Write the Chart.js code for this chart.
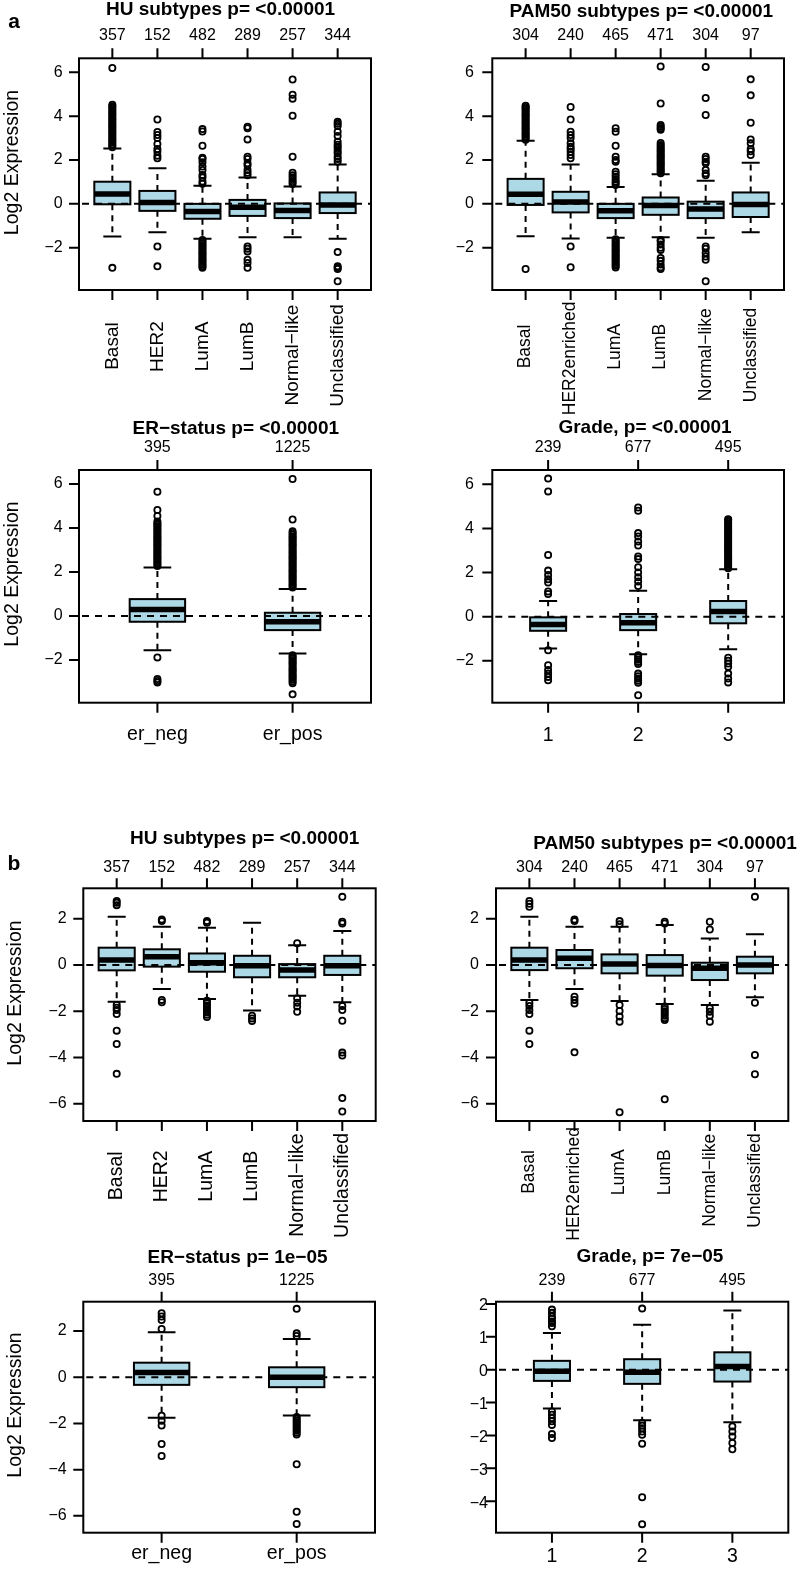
<!DOCTYPE html>
<html>
<head>
<meta charset="utf-8">
<script src="https://cdn.jsdelivr.net/npm/chart.js@4.4.1/dist/chart.umd.min.js"></script>
<style>
  body { margin: 0; background: #fff; width: 800px; height: 1569px; position: relative; overflow: hidden; }
  .panel { position: absolute; }
  canvas { display: block; }
</style>
</head>
<body>
<div class="panel" style="left:0;top:0"><canvas id="aHU" width="400" height="420"></canvas></div>
<div class="panel" style="left:400px;top:0"><canvas id="aPAM" width="400" height="420"></canvas></div>
<div class="panel" style="left:0;top:420px"><canvas id="aER" width="400" height="370"></canvas></div>
<div class="panel" style="left:400px;top:420px"><canvas id="aGrade" width="400" height="370"></canvas></div>
<div class="panel" style="left:0;top:790px"><canvas id="bHU" width="400" height="458"></canvas></div>
<div class="panel" style="left:400px;top:790px"><canvas id="bPAM" width="400" height="458"></canvas></div>
<div class="panel" style="left:0;top:1248px"><canvas id="bER" width="400" height="321"></canvas></div>
<div class="panel" style="left:400px;top:1248px"><canvas id="bGrade" width="400" height="321"></canvas></div>
<script>
// categories and group sizes
const huCats = ['Basal', 'HER2', 'LumA', 'LumB', 'Normal\u2212like', 'Unclassified'];
const huCounts = [357, 152, 482, 289, 257, 344];
const pamCats = ['Basal', 'HER2enriched', 'LumA', 'LumB', 'Normal\u2212like', 'Unclassified'];
const pamCounts = [304, 240, 465, 471, 304, 97];
const erCats = ['er_neg', 'er_pos'];
const erCounts = [395, 1225];
const gradeCats = ['1', '2', '3'];
const gradeCounts = [239, 677, 495];

// y tick values
const yTicksA = [-2, 0, 2, 4, 6];
const yTicksB = [-6, -4, -2, 0, 2];
const yTicksGradeB = [-4, -3, -2, -1, 0, 1, 2];

// box stats: [lower whisker, Q1, median, Q3, upper whisker]
const aHuStats = [
  [-1.49, -0.02, 0.45, 1.01, 2.53],
  [-1.29, -0.32, 0.06, 0.59, 1.62],
  [-1.59, -0.68, -0.35, 0.0, 0.83],
  [-1.52, -0.55, -0.15, 0.18, 1.2],
  [-1.52, -0.65, -0.3, 0.02, 0.79],
  [-1.59, -0.42, -0.05, 0.52, 1.8]
];
const aHuOut = [
  [2.58, 2.65, 2.72, 2.8, 2.88, 2.95, 3.02, 3.1, 3.18, 3.25, 3.32, 3.4, 3.48, 3.55, 3.62, 3.7, 3.78, 3.85, 3.92, 4.0, 4.08, 4.15, 4.22, 4.3, 4.38, 4.45, 4.52, 6.2, -2.92],
  [2.08, 2.2, 2.38, 2.5, 2.73, 3.0, 3.14, 3.28, 3.85, -1.94, -2.85],
  [0.92, 1.02, 1.2, 1.32, 1.55, 1.7, 1.9, 2.05, 2.1, 2.65, 3.3, 3.41, -1.65, -1.72, -1.8, -1.88, -1.95, -2.02, -2.1, -2.18, -2.25, -2.32, -2.4, -2.48, -2.55, -2.62, -2.7, -2.78, -2.85, -2.92],
  [1.3, 1.42, 1.55, 1.75, 1.85, 2.05, 2.15, 2.94, 3.45, 3.52, -1.94, -2.05, -2.17, -2.55, -2.7, -2.92],
  [0.9, 1.0, 1.09, 1.2, 1.3, 1.42, 2.15, 4.02, 4.8, 4.98, 5.67],
  [1.92, 2.05, 2.15, 2.3, 2.38, 2.5, 2.6, 2.7, 2.83, 3.1, 3.29, 3.55, 3.65, 3.74, -2.2, -2.85, -2.92, -2.97, -3.53]
];

const aPamStats = [
  [-1.48, -0.05, 0.44, 1.14, 2.88],
  [-1.58, -0.39, 0.08, 0.55, 1.8],
  [-1.55, -0.65, -0.32, 0.0, 0.77],
  [-1.52, -0.5, -0.08, 0.29, 1.35],
  [-1.55, -0.65, -0.24, 0.1, 1.05],
  [-1.3, -0.6, -0.03, 0.52, 1.88]
];
const aPamOut = [
  [2.92, 3.0, 3.08, 3.15, 3.22, 3.3, 3.38, 3.45, 3.52, 3.6, 3.68, 3.75, 3.82, 3.9, 3.98, 4.05, 4.12, 4.2, 4.28, 4.35, 4.42, 4.48, -2.97],
  [2.08, 2.23, 2.38, 2.5, 2.6, 2.76, 3.0, 3.14, 3.29, 3.85, 4.42, -1.94, -2.89],
  [0.86, 0.95, 1.02, 1.12, 1.24, 1.35, 1.47, 1.92, 2.0, 2.15, 2.65, 3.29, 3.45, -1.62, -1.7, -1.78, -1.85, -1.92, -2.0, -2.08, -2.15, -2.22, -2.3, -2.38, -2.45, -2.52, -2.6, -2.68, -2.75, -2.82, -2.9],
  [1.4, 1.48, 1.55, 1.62, 1.7, 1.78, 1.85, 1.92, 2.0, 2.08, 2.15, 2.22, 2.3, 2.38, 2.45, 2.52, 2.6, 2.68, 2.78, 3.38, 3.45, 3.52, 3.6, 4.58, 6.27, -1.65, -1.71, -1.85, -2.0, -2.1, -2.47, -2.6, -2.77, -2.9, -2.97],
  [1.3, 1.39, 1.55, 1.85, 1.92, 2.05, 2.15, 4.05, 4.83, 6.24, -1.94, -2.05, -2.24, -2.4, -2.55, -3.53],
  [2.23, 2.4, 2.5, 2.76, 2.94, 3.7, 4.95, 5.68]
];

const aErStats = [
  [-1.55, -0.26, 0.3, 0.77, 2.21],
  [-1.7, -0.64, -0.26, 0.15, 1.23]
];
const aErOut = [
  [2.28, 2.35, 2.42, 2.5, 2.58, 2.65, 2.72, 2.8, 2.88, 2.95, 3.02, 3.1, 3.18, 3.25, 3.32, 3.4, 3.48, 3.55, 3.62, 3.7, 3.78, 3.85, 3.92, 4.0, 4.08, 4.15, 4.22, 4.3, 4.55, 4.82, 5.65, -1.88, -2.86, -2.95, -3.02],
  [1.3, 1.38, 1.45, 1.52, 1.6, 1.68, 1.75, 1.82, 1.9, 1.98, 2.05, 2.12, 2.2, 2.28, 2.35, 2.42, 2.5, 2.58, 2.65, 2.72, 2.8, 2.88, 2.95, 3.02, 3.1, 3.18, 3.25, 3.32, 3.4, 3.48, 3.55, 3.62, 3.7, 3.78, 3.85, 4.39, 6.23,
   -1.78, -1.85, -1.92, -2.0, -2.08, -2.15, -2.22, -2.3, -2.38, -2.45, -2.52, -2.6, -2.68, -2.75, -2.82, -2.9, -2.98, -3.05, -3.56]
];

const aGradeStats = [
  [-1.44, -0.64, -0.35, -0.03, 0.71],
  [-1.7, -0.61, -0.27, 0.12, 1.17],
  [-1.48, -0.3, 0.23, 0.71, 2.15]
];
const aGradeOut = [
  [1.03, 1.14, 1.55, 1.7, 1.89, 2.09, 2.8, 5.68, 6.26, -1.52, -2.2, -2.42, -2.58, -2.73, -2.88],
  [1.39, 1.59, 1.79, 2.0, 2.24, 2.61, 2.73, 3.23, 3.41, 3.64, 3.79, 4.8, 4.95, -1.75, -1.85, -1.95, -2.05, -2.15, -2.58, -2.7, -2.8, -2.9, -3.0, -3.56],
  [2.2, 2.28, 2.35, 2.42, 2.5, 2.58, 2.65, 2.72, 2.8, 2.88, 2.95, 3.02, 3.1, 3.18, 3.25, 3.32, 3.4, 3.48, 3.55, 3.62, 3.7, 3.78, 3.85, 3.92, 4.0, 4.08, 4.15, 4.22, 4.3, 4.38, 4.42, -1.86, -2.0, -2.12, -2.27, -2.58, -2.8, -2.98]
];

const bHuStats = [
  [-1.59, -0.23, 0.22, 0.75, 2.09],
  [-1.04, -0.07, 0.36, 0.68, 1.66],
  [-1.47, -0.29, 0.1, 0.5, 1.61],
  [-1.97, -0.53, -0.03, 0.4, 1.83],
  [-1.33, -0.53, -0.22, 0.04, 0.86],
  [-1.61, -0.43, -0.03, 0.4, 1.47]
];
const bHuOut = [
  [2.59, 2.7, 2.77, -1.73, -1.85, -1.95, -2.12, -2.84, -3.42, -4.71],
  [1.9, 1.97, -1.51, -1.61],
  [1.83, 1.9, -1.55, -1.65, -1.75, -1.85, -1.95, -2.05, -2.15, -2.25],
  [-2.19, -2.31, -2.42],
  [0.94, -1.44, -1.63, -1.8, -2.02],
  [1.8, 1.87, 2.95, -1.77, -1.95, -2.41, -3.79, -3.92, -5.76, -6.34]
];

const bPamStats = [
  [-1.51, -0.22, 0.22, 0.75, 2.09],
  [-1.04, -0.14, 0.29, 0.65, 1.66],
  [-1.56, -0.36, 0.04, 0.46, 1.66],
  [-1.69, -0.46, -0.02, 0.43, 1.73],
  [-1.73, -0.65, -0.14, 0.1, 1.15],
  [-1.4, -0.36, 0.0, 0.36, 1.33]
];
const bPamOut = [
  [2.52, 2.65, 2.77, -1.63, -1.77, -1.95, -2.12, -2.84, -3.42],
  [1.9, 1.97, -1.37, -1.51, -1.66, -3.78],
  [1.76, 1.9, -1.73, -1.99, -2.23, -2.45, -6.37],
  [1.8, 1.87, -1.8, -1.9, -2.0, -2.1, -2.2, -2.3, -2.38, -5.81],
  [1.54, 1.87, -1.87, -2.02, -2.19, -2.45],
  [2.95, -1.63, -3.89, -4.73]
];

const bErStats = [
  [-1.75, -0.33, 0.2, 0.63, 1.95],
  [-1.66, -0.43, 0.0, 0.43, 1.65]
];
const bErOut = [
  [2.09, 2.48, 2.63, 2.77, -1.67, -1.88, -2.09, -2.89, -3.41],
  [1.79, 1.9, 2.96, -1.72, -1.8, -1.88, -1.95, -2.02, -2.1, -2.18, -2.25, -2.32, -2.4, -2.48, -3.77, -5.82, -6.35]
];

const bGradeStats = [
  [-1.18, -0.34, -0.05, 0.27, 1.12],
  [-1.54, -0.43, -0.08, 0.32, 1.37],
  [-1.6, -0.36, 0.1, 0.53, 1.8]
];
const bGradeOut = [
  [1.32, 1.42, 1.47, 1.55, 1.62, 1.73, 1.83, -1.27, -1.37, -1.47, -1.57, -1.68, -1.96, -2.08],
  [1.86, -1.62, -1.7, -1.78, -1.88, -1.98, -2.25, -3.88, -4.7],
  [-1.73, -1.88, -2.03, -2.23, -2.42]
];

const FONT = '"Liberation Sans", Arial, Helvetica, sans-serif';
const BOX_FILL = '#add8e6';

// panel layout (page coordinates)
const panels = [
  { id: 'aHU', left: 0, top: 0, w: 400, h: 420, frame: [79, 58.3, 371, 290],
    cats: huCats, counts: huCounts, stats: aHuStats, out: aHuOut, xMin: 0.26, xMax: 6.74,
    yMin: -3.93, yMax: 6.64, yTicks: yTicksA, boxW: 0.8, yGap: 16.3, yLabDy: 0,
    title: 'HU subtypes p= <0.00001', titleX: 220.5, titleY: 9.8, countsY: 35.3,
    rotate: true, labFont: 19, labY: 338, ylab: [13, 162.5], letter: ['a', 14, 22] },
  { id: 'aPAM', left: 400, top: 0, w: 400, h: 420, frame: [492.3, 58.3, 784, 290],
    cats: pamCats, counts: pamCounts, stats: aPamStats, out: aPamOut, xMin: 0.26, xMax: 6.74,
    yMin: -3.93, yMax: 6.64, yTicks: yTicksA, boxW: 0.8, yGap: 18.3, yLabDy: 0,
    title: 'PAM50 subtypes p= <0.00001', titleX: 641.3, titleY: 12, countsY: 35.3,
    rotate: true, labFont: 17.5, labY: 339 },
  { id: 'aER', left: 0, top: 420, w: 400, h: 370, frame: [79, 470, 371, 702.7],
    cats: erCats, counts: erCounts, stats: aErStats, out: aErOut, xMin: 0.42, xMax: 2.58,
    yMin: -3.94, yMax: 6.64, yTicks: yTicksA, boxW: 0.41, yGap: 16.3, yLabDy: 0,
    title: 'ER\u2212status p= <0.00001', titleX: 235.8, titleY: 428.8, countsY: 448,
    rotate: false, labFont: 19.5, labY: 734.5, ylab: [13, 574] },
  { id: 'aGrade', left: 400, top: 420, w: 400, h: 370, frame: [492.3, 470, 784, 702.7],
    cats: gradeCats, counts: gradeCounts, stats: aGradeStats, out: aGradeOut, xMin: 0.38, xMax: 3.62,
    yMin: -3.9, yMax: 6.65, yTicks: yTicksA, boxW: 0.4, yGap: 18.3, yLabDy: 0,
    title: 'Grade, p= <0.00001', titleX: 645, titleY: 428, countsY: 448,
    rotate: false, labFont: 19.5, labY: 735.5 },
  { id: 'bHU', left: 0, top: 790, w: 400, h: 458, frame: [83.3, 888.3, 375.7, 1121],
    cats: huCats, counts: huCounts, stats: bHuStats, out: bHuOut, xMin: 0.26, xMax: 6.74,
    yMin: -6.75, yMax: 3.32, yTicks: yTicksB, boxW: 0.8, yGap: 16.6, yLabDy: 0,
    title: 'HU subtypes p= <0.00001', titleX: 244.7, titleY: 838.8, countsY: 868,
    rotate: true, labFont: 19.5, labY: 1167.5, ylab: [15.5, 993], letter: ['b', 14, 864] },
  { id: 'bPAM', left: 400, top: 790, w: 400, h: 458, frame: [496, 888.3, 788.3, 1121],
    cats: pamCats, counts: pamCounts, stats: bPamStats, out: bPamOut, xMin: 0.26, xMax: 6.74,
    yMin: -6.75, yMax: 3.32, yTicks: yTicksB, boxW: 0.8, yGap: 17, yLabDy: 0,
    title: 'PAM50 subtypes p= <0.00001', titleX: 665, titleY: 843.3, countsY: 868,
    rotate: true, labFont: 17.5, labY: 1164.5 },
  { id: 'bER', left: 0, top: 1248, w: 400, h: 321, frame: [83.3, 1301.7, 375, 1532.7],
    cats: erCats, counts: erCounts, stats: bErStats, out: bErOut, xMin: 0.42, xMax: 2.58,
    yMin: -6.73, yMax: 3.27, yTicks: yTicksB, boxW: 0.41, yGap: 16.6, yLabDy: 0,
    title: 'ER\u2212status p= 1e\u221205', titleX: 237.5, titleY: 1257.5, countsY: 1281,
    rotate: false, labFont: 19.5, labY: 1554, ylab: [15.5, 1405] },
  { id: 'bGrade', left: 400, top: 1248, w: 400, h: 321, frame: [496, 1301.7, 788.3, 1532.7],
    cats: gradeCats, counts: gradeCounts, stats: bGradeStats, out: bGradeOut, xMin: 0.38, xMax: 3.62,
    yMin: -4.96, yMax: 2.07, yTicks: yTicksGradeB, boxW: 0.4, yGap: 8, yLabDy: 2,
    title: 'Grade, p= 7e\u221205', titleX: 650, titleY: 1257, countsY: 1281,
    rotate: false, labFont: 19.5, labY: 1557 }
];

function fmt(v) {
  return v < 0 ? '\u2212' + Math.abs(v) : String(v);
}

const boxPlugin = {
  id: 'rbox',
  beforeDatasetsDraw(chart) {
    const p = chart.options.plugins.rbox;
    const { ctx, scales: { x, y } } = chart;
    ctx.save();
    ctx.strokeStyle = '#000';
    p.stats.forEach((s, i) => {
      const cx = x.getPixelForValue(i + 1);
      const hw = (x.getPixelForValue(i + 1 + p.boxW / 2) - x.getPixelForValue(i + 1 - p.boxW / 2)) / 2;
      const [lo, q1, med, q3, hi] = s.map(v => y.getPixelForValue(v));
      // whiskers
      ctx.lineWidth = 2;
      ctx.setLineDash([6, 5]);
      ctx.beginPath();
      ctx.moveTo(cx, q3); ctx.lineTo(cx, hi);
      ctx.stroke();
      ctx.beginPath();
      ctx.moveTo(cx, q1); ctx.lineTo(cx, lo);
      ctx.stroke();
      ctx.setLineDash([]);
      // staples
      ctx.beginPath();
      ctx.moveTo(cx - hw / 2, hi); ctx.lineTo(cx + hw / 2, hi);
      ctx.moveTo(cx - hw / 2, lo); ctx.lineTo(cx + hw / 2, lo);
      ctx.stroke();
      // box
      ctx.fillStyle = BOX_FILL;
      ctx.fillRect(cx - hw, q3, 2 * hw, q1 - q3);
      ctx.strokeRect(cx - hw, q3, 2 * hw, q1 - q3);
      // median
      ctx.lineWidth = 5.5;
      ctx.beginPath();
      ctx.moveTo(cx - hw, med); ctx.lineTo(cx + hw, med);
      ctx.stroke();
    });
    ctx.restore();
  },
  afterDatasetsDraw(chart) {
    const { ctx, chartArea: a, scales: { y } } = chart;
    ctx.save();
    ctx.strokeStyle = '#000';
    ctx.lineWidth = 2;
    // reference line at 0
    const y0 = y.getPixelForValue(0);
    ctx.setLineDash([7, 6]);
    ctx.beginPath();
    ctx.moveTo(a.left + 3, y0); ctx.lineTo(a.right, y0);
    ctx.stroke();
    ctx.setLineDash([]);
    // frame
    ctx.strokeRect(a.left, a.top, a.right - a.left, a.bottom - a.top);
    ctx.restore();
  },
  afterDraw(chart) {
    const p = chart.options.plugins.rbox;
    const { ctx, chartArea: a, scales: { x, y } } = chart;
    const ox = p.left, oy = p.top;
    ctx.save();
    ctx.strokeStyle = '#000';
    ctx.fillStyle = '#000';
    ctx.lineWidth = 2;
    // ticks
    ctx.beginPath();
    p.yTicks.forEach(v => {
      const py = y.getPixelForValue(v);
      ctx.moveTo(a.left - 10, py); ctx.lineTo(a.left, py);
    });
    p.cats.forEach((c, i) => {
      const px = x.getPixelForValue(i + 1);
      ctx.moveTo(px, a.top - 10); ctx.lineTo(px, a.top);
      ctx.moveTo(px, a.bottom); ctx.lineTo(px, a.bottom + 10);
    });
    ctx.stroke();
    // y tick labels
    ctx.font = '16px ' + FONT;
    ctx.textAlign = 'right';
    ctx.textBaseline = 'middle';
    p.yTicks.forEach(v => ctx.fillText(fmt(v), a.left - p.yGap, y.getPixelForValue(v) + p.yLabDy));
    // group sizes on top
    ctx.textAlign = 'center';
    p.counts.forEach((n, i) => ctx.fillText(String(n), x.getPixelForValue(i + 1), p.countsY - oy));
    // title
    ctx.font = 'bold 19px ' + FONT;
    ctx.fillText(p.title, p.titleX - ox, p.titleY - oy);
    // category labels
    ctx.font = p.labFont + 'px ' + FONT;
    p.cats.forEach((c, i) => {
      const px = x.getPixelForValue(i + 1);
      if (p.rotate) {
        const w = ctx.measureText(c).width;
        ctx.save();
        ctx.translate(px, p.labY - oy + 0.17 * w);
        ctx.rotate(-Math.PI / 2);
        ctx.fillText(c, 0, 0);
        ctx.restore();
      } else {
        ctx.fillText(c, px, p.labY - oy);
      }
    });
    // y axis title
    if (p.ylab) {
      ctx.font = '19.5px ' + FONT;
      ctx.save();
      ctx.translate(p.ylab[0] - ox, p.ylab[1] - oy);
      ctx.rotate(-Math.PI / 2);
      ctx.fillText('Log2 Expression', 0, 0);
      ctx.restore();
    }
    if (p.letter) {
      ctx.font = 'bold 21px ' + FONT;
      ctx.fillText(p.letter[0], p.letter[1] - ox, p.letter[2] - oy);
    }
    ctx.restore();
  }
};

panels.forEach(p => {
  const [L, T, R, B] = p.frame;
  const points = p.out.flatMap((vals, i) => vals.map(v => ({ x: i + 1, y: v })));
  new Chart(document.getElementById(p.id), {
    type: 'scatter',
    data: {
      datasets: [{
        data: points,
        pointStyle: 'circle',
        pointRadius: 3.1,
        pointBorderWidth: 1.8,
        pointBorderColor: '#000',
        pointBackgroundColor: 'rgba(0,0,0,0)',
        clip: 8
      }]
    },
    options: {
      responsive: false,
      animation: false,
      events: [],
      layout: {
        padding: { left: L - p.left, top: T - p.top, right: p.left + p.w - R, bottom: p.top + p.h - B }
      },
      scales: {
        x: { type: 'linear', display: false, min: p.xMin, max: p.xMax },
        y: { type: 'linear', display: false, min: p.yMin, max: p.yMax }
      },
      plugins: {
        legend: { display: false },
        tooltip: { enabled: false },
        rbox: p
      }
    },
    plugins: [boxPlugin]
  });
});
</script>
</body>
</html>
